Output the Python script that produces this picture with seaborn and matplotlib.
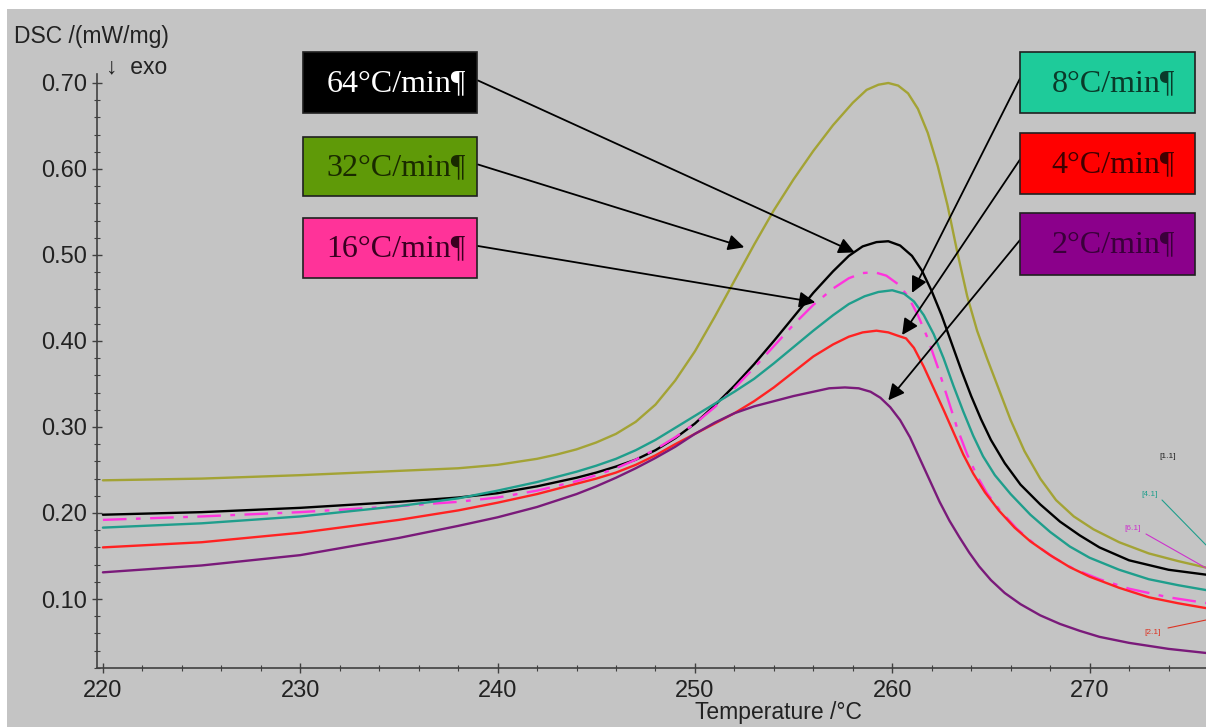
import matplotlib
matplotlib.use('Agg')
import matplotlib.pyplot as plt
from matplotlib.patches import Rectangle
from matplotlib.ticker import MultipleLocator, FormatStrFormatter
import seaborn as sns
import pandas as pd

# DSC curves, one per heating rate
temp_32 = [220, 225, 230, 235, 238, 240, 242, 243, 244, 245, 246, 247, 248,
           249, 250, 251, 252, 253, 254, 255, 256, 257, 258, 258.7, 259.3,
           259.8, 260.3, 260.8, 261.3, 261.8, 262.3, 262.8, 263.3, 263.8,
           264.3, 264.8, 265.3, 266, 266.7, 267.5, 268.3, 269.2, 270.2, 271.5,
           273, 274.5, 276]
dsc_32 = [0.238, 0.240, 0.244, 0.249, 0.252, 0.256, 0.263, 0.268, 0.274, 0.282,
          0.292, 0.306, 0.326, 0.354, 0.388, 0.428, 0.470, 0.512, 0.552, 0.588,
          0.621, 0.651, 0.677, 0.692, 0.698, 0.700, 0.697, 0.688, 0.670, 0.642,
          0.604, 0.558, 0.503, 0.452, 0.412, 0.380, 0.350, 0.308, 0.272, 0.240,
          0.215, 0.196, 0.181, 0.166, 0.153, 0.144, 0.136]

temp_64 = [220, 225, 230, 235, 238, 240, 242, 244, 245, 246, 247, 248, 249,
           250, 251, 252, 253, 254, 255, 256, 257, 257.8, 258.5, 259.2, 259.8,
           260.4, 261, 261.5, 262, 262.5, 263, 263.5, 264, 264.5, 265, 265.7,
           266.5, 267.5, 268.5, 269.5, 270.5, 272, 274, 276]
dsc_64 = [0.198, 0.201, 0.206, 0.213, 0.218, 0.223, 0.231, 0.241, 0.247, 0.254,
          0.262, 0.273, 0.287, 0.304, 0.325, 0.348, 0.373, 0.400, 0.428, 0.456,
          0.481, 0.499, 0.510, 0.515, 0.516, 0.511, 0.499, 0.482, 0.458, 0.430,
          0.398, 0.366, 0.336, 0.309, 0.285, 0.258, 0.233, 0.210, 0.190, 0.174,
          0.160, 0.145, 0.134, 0.128]

temp_16 = [220, 225, 230, 235, 238, 240, 242, 244, 245, 246, 247, 248, 249,
           250, 251, 252, 253, 254, 255, 256, 257, 257.8, 258.5, 259.1, 259.7,
           260.3, 260.8, 261.3, 261.8, 262.3, 262.8, 263.3, 263.8, 264.3,
           264.8, 265.5, 266.3, 267.2, 268.2, 269.2, 270.5, 272, 274, 276]
dsc_16 = [0.192, 0.196, 0.201, 0.208, 0.213, 0.218, 0.226, 0.237, 0.244, 0.252,
          0.262, 0.274, 0.288, 0.304, 0.323, 0.345, 0.369, 0.394, 0.419, 0.442,
          0.461, 0.473, 0.479, 0.480, 0.476, 0.466, 0.452, 0.430, 0.403, 0.370,
          0.334, 0.298, 0.268, 0.243, 0.223, 0.202, 0.182, 0.164, 0.148, 0.135,
          0.123, 0.112, 0.102, 0.095]

temp_8 = [220, 225, 230, 235, 238, 240, 242, 244, 245, 246, 247, 248, 249, 250,
          251, 252, 253, 254, 255, 256, 257, 257.8, 258.6, 259.3, 260, 260.6,
          261.1, 261.6, 262.1, 262.6, 263.1, 263.6, 264.1, 264.6, 265.2, 266,
          267, 268, 269, 270, 271.5, 273, 274.5, 276]
dsc_8 = [0.183, 0.188, 0.196, 0.208, 0.217, 0.226, 0.236, 0.248, 0.255, 0.263,
         0.273, 0.285, 0.299, 0.313, 0.327, 0.341, 0.356, 0.374, 0.393, 0.412,
         0.430, 0.443, 0.452, 0.457, 0.459, 0.455, 0.446, 0.430, 0.408, 0.380,
         0.348, 0.318, 0.290, 0.266, 0.244, 0.222, 0.198, 0.178, 0.161, 0.148,
         0.134, 0.123, 0.116, 0.110]

temp_4 = [220, 225, 230, 235, 238, 240, 242, 244, 245, 246, 247, 248, 249, 250,
          251, 252, 253, 254, 255, 256, 257, 257.8, 258.5, 259.2, 259.8, 260.3,
          260.7, 261.1, 261.6, 262.1, 262.6, 263.1, 263.6, 264.1, 264.7, 265.4,
          266.2, 267, 268, 269, 270, 271.5, 273, 274.5, 276]
dsc_4 = [0.160, 0.166, 0.177, 0.192, 0.203, 0.212, 0.222, 0.234, 0.240, 0.247,
         0.256, 0.267, 0.280, 0.292, 0.304, 0.316, 0.330, 0.346, 0.364, 0.382,
         0.396, 0.405, 0.410, 0.412, 0.410, 0.406, 0.403, 0.392, 0.370, 0.345,
         0.320, 0.294, 0.268, 0.246, 0.224, 0.203, 0.183, 0.167, 0.151, 0.137,
         0.126, 0.113, 0.102, 0.095, 0.089]

temp_2 = [220, 225, 230, 235, 238, 240, 242, 244, 245, 246, 247, 248, 249, 250,
          251, 252, 253, 254, 255, 256, 256.8, 257.6, 258.3, 258.9, 259.4,
          259.9, 260.4, 260.9, 261.4, 261.9, 262.4, 262.9, 263.4, 263.9, 264.4,
          265, 265.7, 266.5, 267.5, 268.5, 269.5, 270.5, 272, 274, 276]
dsc_2 = [0.131, 0.139, 0.151, 0.171, 0.185, 0.195, 0.207, 0.222, 0.231, 0.241,
         0.252, 0.264, 0.277, 0.292, 0.305, 0.316, 0.324, 0.330, 0.336, 0.341,
         0.345, 0.346, 0.345, 0.341, 0.334, 0.323, 0.308, 0.288, 0.263, 0.238,
         0.213, 0.191, 0.172, 0.154, 0.138, 0.122, 0.107, 0.094, 0.081, 0.071,
         0.063, 0.056, 0.049, 0.042, 0.037]

rates = ['32', '64', '16', '8', '4', '2']
temps = [temp_32, temp_64, temp_16, temp_8, temp_4, temp_2]
series = [dsc_32, dsc_64, dsc_16, dsc_8, dsc_4, dsc_2]
line_colors = ['#a3a335', '#000000', '#ff33dd', '#1f9e8c', '#ff2222', '#7a1a7a']

# label boxes: text, box colour, text colour, arrow target (temp, dsc)
box_labels = ['64°C/min¶', '32°C/min¶', '16°C/min¶',
              '8°C/min¶', '4°C/min¶', '2°C/min¶']
box_colors = ['#000000', '#5f9a08', '#ff3399', '#1ecb9a', '#ff0000', '#8b008b']
box_text_colors = ['white', '#1a2a00', '#3a0020', '#0a3a2a', '#400000', '#3a003a']
arrow_temp = [258.1, 252.5, 256.1, 261.0, 260.5, 259.8]
arrow_dsc = [0.503, 0.509, 0.445, 0.456, 0.407, 0.331]

BG = '#c4c4c4'
W, H = 1206, 727

sns.set_theme(style="white", rc={
    "axes.facecolor": BG,
    "figure.facecolor": "white",
})
plt.rcParams['font.family'] = ['Liberation Sans', 'DejaVu Sans']


def fx(x):
    return x / W


def fy(y):
    return 1 - y / H


fig = plt.figure(figsize=(W / 100, H / 100), dpi=100)
fig.patches.append(Rectangle((fx(7), 0), 1, fy(9), transform=fig.transFigure,
                             facecolor=BG, edgecolor='none', zorder=-10))
ax = fig.add_axes([fx(97), 1 - 667.8 / H, 1109 / W, 593.4 / H])
ax.set_facecolor(BG)

df = pd.concat([pd.DataFrame({'temp': t, 'dsc': v, 'rate': r})
                for t, v, r in zip(temps, series, rates)])

for r, c in zip(rates, line_colors):
    sub = df[df['rate'] == r]
    sns.lineplot(data=sub, x='temp', y='dsc', color=c, lw=1.7, ax=ax,
                 estimator=None, sort=False, legend=False,
                 linestyle=(0, (10, 4, 2, 4)) if r == '16' else '-')

ax.set_xlim(219.7, 275.9)
ax.set_ylim(0.02, 0.71)
ax.set_xlabel('')
ax.set_ylabel('')
ax.xaxis.set_major_locator(MultipleLocator(10))
ax.xaxis.set_minor_locator(MultipleLocator(2))
ax.yaxis.set_major_locator(MultipleLocator(0.1))
ax.yaxis.set_minor_locator(MultipleLocator(0.02))
ax.yaxis.set_major_formatter(FormatStrFormatter('%.2f'))
ax.tick_params(axis='both', which='both', left=True, bottom=True)
ax.tick_params(axis='both', which='major', direction='inout', length=7,
               width=1, color='#404040', labelsize=17, labelcolor='#222222')
ax.tick_params(axis='both', which='minor', direction='inout', length=4,
               width=0.8, color='#404040')
ax.tick_params(axis='x', which='major', pad=5)
for side in ['top', 'right']:
    ax.spines[side].set_visible(False)
for side in ['left', 'bottom']:
    ax.spines[side].set_color('#404040')
    ax.spines[side].set_linewidth(1.2)

fig.text(fx(14), fy(36), 'DSC /(mW/mg)', fontsize=16.5, va='center',
         color='#222222')
fig.text(fx(106), fy(67), '↓  exo', fontsize=16.5, va='center',
         color='#222222')
fig.text(fx(778), fy(713), 'Temperature /°C', fontsize=16.5, ha='center',
         va='center', color='#222222')

# boxes (left, top, right, bottom in pixels)
box_pos = [(303, 52, 477, 113), (303, 137, 477, 196), (303, 218, 477, 278),
           (1020, 52, 1195, 113), (1020, 133, 1195, 194), (1020, 213, 1195, 275)]
for i, (l, t, r, b) in enumerate(box_pos):
    fig.patches.append(Rectangle((fx(l), fy(b)), fx(r - l), (b - t) / H,
                                 transform=fig.transFigure,
                                 facecolor=box_colors[i], edgecolor='#202020',
                                 lw=1.2, zorder=5))
    fig.text(fx((l + r) / 2 + 6), fy((t + b) / 2 + 1), box_labels[i],
             family=['Liberation Serif', 'DejaVu Serif'], fontsize=23,
             color=box_text_colors[i], ha='center', va='center', zorder=6)
    start = (fx(r + 1), fy((t + b) / 2 - 2)) if i < 3 else (fx(l), fy((t + b) / 2 - 4))
    ax.annotate('', xy=(arrow_temp[i], arrow_dsc[i]), xycoords='data',
                xytext=start, textcoords='figure fraction',
                arrowprops=dict(arrowstyle='-|>', color='black', lw=1.3,
                                mutation_scale=24, shrinkA=0, shrinkB=0))

# small curve tags at the right edge
tag_style = dict(fontsize=6, ha='center', va='center')
fig.text(fx(1168), fy(457), '[1.1]', color='#222222', **tag_style)
fig.text(fx(1150), fy(494), '[4.1]', color='#1f9e8c', **tag_style)
fig.text(fx(1133), fy(528), '[6.1]', color='#cc33cc', **tag_style)
fig.text(fx(1153), fy(632), '[2.1]', color='#dd3322', **tag_style)
for (x0, y0, x1, y1), c in zip([(1162, 500, 1206, 545), (1146, 534, 1206, 568),
                                (1168, 628, 1206, 620)],
                               ['#1f9e8c', '#cc33cc', '#dd3322']):
    fig.add_artist(plt.Line2D([fx(x0), fx(x1)], [fy(y0), fy(y1)], color=c,
                              lw=0.8, transform=fig.transFigure))

fig.savefig('out.png', dpi=100)
